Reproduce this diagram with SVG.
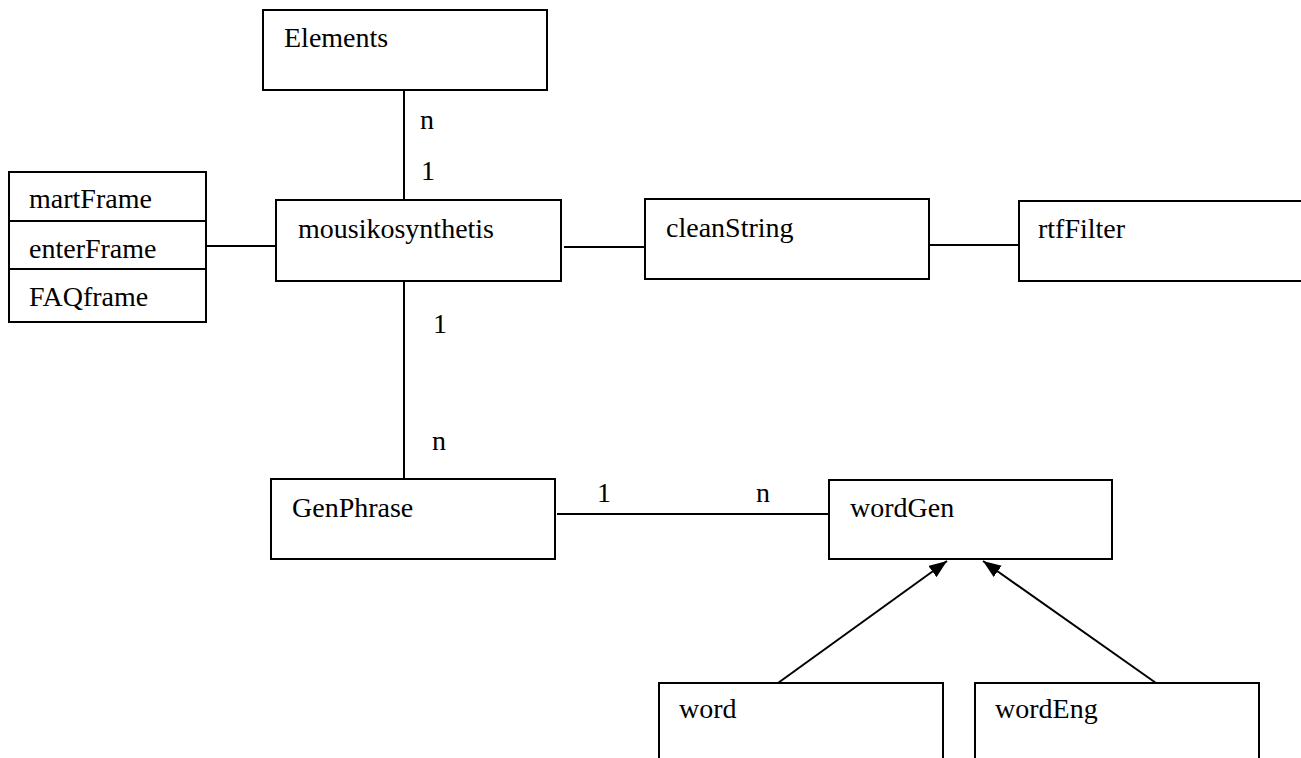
<svg xmlns="http://www.w3.org/2000/svg" width="1301" height="758" viewBox="0 0 1301 758">
<defs>
<style>
.box{fill:#fff;stroke:#000;stroke-width:2}
.c{stroke:#000;stroke-width:2;fill:none}
</style>
<marker id="ah" markerWidth="20" markerHeight="14" refX="18" refY="7" orient="auto" markerUnits="userSpaceOnUse">
<path d="M0,0 L18,7 L0,14 Z" fill="#000"/>
</marker>
</defs>
<rect width="1301" height="758" fill="#fff"/>
<g font-family="Liberation Serif, Times New Roman, serif" font-size="28" fill="#000">
<g id="connectors">
<line class="c" x1="404" y1="90" x2="404" y2="200"/>
<line class="c" x1="206" y1="246" x2="276" y2="246"/>
<line class="c" x1="564" y1="247" x2="644" y2="247"/>
<line class="c" x1="926" y1="245" x2="1019" y2="245"/>
<line class="c" x1="404" y1="281" x2="404" y2="479"/>
<line class="c" x1="557" y1="514" x2="829" y2="514"/>
<line class="c" x1="778" y1="683" x2="947" y2="561" marker-end="url(#ah)"/>
<line class="c" x1="1156" y1="683" x2="983" y2="561" marker-end="url(#ah)"/>
<text x="420" y="129">n</text>
<text x="421" y="180">1</text>
<text x="433" y="333">1</text>
<text x="432" y="450">n</text>
<text x="597" y="502">1</text>
<text x="756" y="502">n</text>
</g>
<g id="Elements"><rect class="box" x="263" y="10" width="284" height="80"/><text x="284" y="47">Elements</text></g>
<g id="frames">
<rect class="box" x="9" y="172" width="197" height="150"/>
<line class="c" x1="9" y1="221" x2="206" y2="221"/>
<line class="c" x1="9" y1="269" x2="206" y2="269"/>
<text x="29" y="208">martFrame</text>
<text x="29" y="258">enterFrame</text>
<text x="29" y="306">FAQframe</text>
</g>
<g id="mousikosynthetis"><rect class="box" x="276" y="200" width="285" height="81"/><text x="298" y="238">mousikosynthetis</text></g>
<g id="cleanString"><rect class="box" x="645" y="199" width="284" height="80"/><text x="666" y="237">cleanString</text></g>
<g id="rtfFilter"><rect class="box" x="1019" y="201" width="290" height="80"/><text x="1038" y="238">rtfFilter</text></g>
<g id="GenPhrase"><rect class="box" x="271" y="479" width="284" height="80"/><text x="292" y="517">GenPhrase</text></g>
<g id="wordGen"><rect class="box" x="829" y="480" width="283" height="79"/><text x="850" y="517">wordGen</text></g>
<g id="word"><rect class="box" x="659" y="683" width="284" height="90"/><text x="679" y="718">word</text></g>
<g id="wordEng"><rect class="box" x="975" y="683" width="284" height="90"/><text x="995" y="718">wordEng</text></g>
</g>
</svg>
